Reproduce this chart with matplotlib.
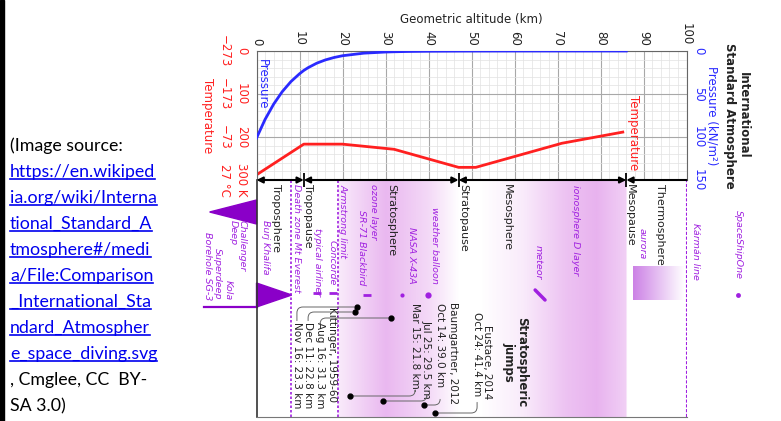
import numpy as np
import matplotlib
matplotlib.use("Agg")
import matplotlib.pyplot as plt
from matplotlib.patches import Polygon, Rectangle
from matplotlib.lines import Line2D
from matplotlib.ticker import MultipleLocator
from matplotlib.transforms import IdentityTransform

# ISA profile
alt_pressure_km = [0, 2, 4, 6, 8, 10, 11, 12, 14, 16, 18, 20, 25, 30, 32, 35, 40, 47, 50, 60, 70, 80, 86]
pressure_kpa = [101.3, 79.5, 61.7, 47.2, 35.6, 26.5, 22.6, 19.4, 14.2, 10.4, 7.6, 5.5,
                2.5, 1.2, 0.89, 0.57, 0.29, 0.11, 0.08, 0.02, 0.005, 0.001, 0.0004]
alt_temp_km = [0, 11, 20, 32, 47, 51, 71, 85.5]
temp_k = [288, 216.6, 216.6, 228.6, 270.6, 270.6, 214.6, 188]

altitude_ticks = [0, 10, 20, 30, 40, 50, 60, 70, 80, 90, 100]
temp_ticks = [0, 100, 200, 300]
temp_tick_labels = ['0\n\u2212273', '100\n\u2212173', '200\n\u221273', '300 K\n27 \u00b0C']
pressure_ticks = [0, 50, 100, 150]

# atmospheric layers
layer_bounds_km = [0, 11, 47, 86, 100]
layer_names = ['Troposphere', 'Tropopause', 'Stratosphere', 'Stratopause',
               'Mesosphere', 'Mesopause', 'Thermosphere']
layer_label_km = [4.5, 11.9, 31.4, 48.1, 58.3, 86.9, 93.8]

# purple reference labels (name, x in km, top offset)
ref_names = ['Death zone Mt Everest', 'Burj Khalifa', 'typical airliner', 'Concorde',
             'Armstrong limit', 'SR-71 Blackbird', 'ozone layer', 'NASA X-43A',
             'weather balloon', 'meteor', 'ionosphere D layer', 'aurora',
             'K\u00e1rm\u00e1n line', 'SpaceShipOne']
ref_label_km = [9.2, 2.0, 14.2, 17.5, 20.1, 24.5, 27.3, 36.1, 41.5, 65.6, 74.1, 89.6, 102.0, 112.0]
ref_label_top = [4, 40, 48, 60, 4, 30, 4, 47, 27, 65, 5, 48, 43, 30]

# small reference markers
dash_km = [14.0, 17.8, 25.7]          # airliner, Concorde, SR-71
dot_km = [33.8, 39.9, 112.0]          # X-43A, balloon, SpaceShipOne
dot_size = [3, 4.5, 3.5]
death_zone_km = 8.0
armstrong_km = 18.9
karman_km = 100
challenger_km = -10.9
kola_km = -12.2
everest_km = 8.2

# stratospheric jumps
jump_labels = ['Oct 24: 41.4 km', 'Oct 14: 39.0 km', 'Jul 25: 29.5 km', 'Mar 15: 21.8 km',
               'Aug 16: 31.3 km', 'Dec 11: 22.8 km', 'Nov 16: 23.3 km']
jump_km = [41.4, 39.0, 29.5, 21.8, 31.3, 22.8, 23.3]

# shading stops (ozone layer / ionosphere D layer)
shade_km = [0, 18.8, 18.9, 30, 40, 47, 52, 62, 72, 79, 85.9, 86.1, 100]
shade_alpha = [0, 0, 0.12, 0.42, 0.22, 0.0, 0.0, 0.12, 0.36, 0.45, 0.28, 0.0, 0.0]

W, H = 781, 421
fig = plt.figure(figsize=(W / 100, H / 100), dpi=100)

PURPLE = '#a020e0'
BLUE = '#2a2aff'
RED = '#ff2020'

# ---------------- main graph ----------------
ax = fig.add_axes([256.5 / W, (H - 180) / H, 430 / W, 129 / H])
ax.set_xlim(0, 100)
ax.set_ylim(300, 0)
ax.xaxis.set_minor_locator(MultipleLocator(2))
ax.yaxis.set_minor_locator(MultipleLocator(20))
ax.grid(which='major', color='#a8a8a8', lw=0.8)
ax.grid(which='minor', color='#e2e2e2', lw=0.5)
ax.set_axisbelow(True)
ax.tick_params(which='both', length=0)
ax.xaxis.tick_top()
ax.xaxis.set_label_position('top')
ax.set_xticks(altitude_ticks)
ax.set_xticklabels([str(t) for t in altitude_ticks], rotation=-90, fontsize=8.5, color='#222222')
ax.tick_params(axis='x', pad=4)
ax.set_xlabel('Geometric altitude (km)', fontsize=8.5, labelpad=0.5, color='#222222')
ax.set_yticks(temp_ticks)
ax.set_yticklabels(temp_tick_labels, rotation=-90, va='center', ha='right',
                   multialignment='center', color=RED, fontsize=8.5, linespacing=1.45)
ax.tick_params(axis='y', pad=6)
for s in ax.spines.values():
    s.set_color('#666666')

ax.plot(alt_temp_km, temp_k, color=RED, lw=2, solid_capstyle='butt')
ax.text(87.6, 102, 'Temperature', rotation=-90, color=RED, ha='center', va='top', fontsize=8.5)

axp = ax.twinx()
axp.set_ylim(150, 0)
axp.plot(alt_pressure_km, pressure_kpa, color=BLUE, lw=2)
axp.set_yticks(pressure_ticks)
axp.set_yticklabels([str(t) for t in pressure_ticks], rotation=-90, va='center', ha='left',
                    color=BLUE, fontsize=8.5)
axp.tick_params(length=0, pad=4)
for s in axp.spines.values():
    s.set_visible(False)
axp.text(1.3, 9, 'Pressure', rotation=-90, color=BLUE, ha='center', va='top', fontsize=8.5)

ax.text(-0.115, 0.5, 'Temperature', transform=ax.transAxes, rotation=-90, color=RED,
        ha='center', va='center', fontsize=8.5)
ax.text(1.06, 0.5, 'Pressure (kN/m\u00b2)', transform=ax.transAxes, rotation=-90, color=BLUE,
        ha='center', va='center', fontsize=8.5)
ax.text(1.117, 0.5, 'International\nStandard Atmosphere', transform=ax.transAxes,
        rotation=-90, color='#222222', ha='center', va='center', fontsize=8.5,
        fontweight='bold', multialignment='center', linespacing=1.1)

# ---------------- lower panel ----------------
ax2 = fig.add_axes([256.5 / W, (H - 417) / H, 430 / W, 237 / H])
ax2.set_xlim(0, 100)
ax2.set_ylim(237, 0)
ax2.set_xticks([])
ax2.set_yticks([])
ax2.spines['top'].set_visible(False)
ax2.spines['right'].set_visible(False)
ax2.spines['left'].set_color('#333333')
ax2.spines['bottom'].set_color('#777777')
ax2.spines['left'].set_linewidth(1.2)

grid_km = np.linspace(0, 100, 801)
shade = np.zeros((1, grid_km.size, 4))
shade[..., 0], shade[..., 1], shade[..., 2] = 0.80, 0.33, 0.86
shade[..., 3] = np.interp(grid_km, shade_km, shade_alpha)
ax2.imshow(shade, extent=[0, 100, 237, 0], aspect='auto', interpolation='bilinear', zorder=0)

aur = np.zeros((1, 50, 4))
aur[..., 0], aur[..., 1], aur[..., 2] = 0.72, 0.30, 0.86
aur[..., 3] = np.linspace(0.7, 0.0, 50)
ax2.imshow(aur, extent=[87.5, 99.5, 120, 87], aspect='auto', interpolation='bilinear', zorder=1)
ax2.set_xlim(0, 100)
ax2.set_ylim(237, 0)

# layer boundary arrows
for i, (a, b) in enumerate(zip(layer_bounds_km[:-1], layer_bounds_km[1:])):
    style = '<|-|>' if i < len(layer_bounds_km) - 2 else '<|-'
    ax2.annotate('', xy=(b, 0), xytext=(a, 0),
                 arrowprops=dict(arrowstyle=style, color='black', lw=1.5,
                                 shrinkA=0, shrinkB=0, mutation_scale=9),
                 annotation_clip=False, zorder=5)
ax2.vlines(layer_bounds_km[1:-1], -7, 7, color='black', lw=1.3, clip_on=False, zorder=5)

for name, km in zip(layer_names, layer_label_km):
    ax2.text(km, 4, name, rotation=-90, ha='center', va='top', fontsize=8, color='#222222')

# vertical reference lines
for km in [death_zone_km, armstrong_km]:
    ax2.axvline(km, color=PURPLE, lw=1.2, ls=(0, (1.5, 1.2)), zorder=2)
ax2.axvline(karman_km, color=PURPLE, lw=1.5, ls=(0, (1.5, 0.8)), zorder=2)

for name, km, top in zip(ref_names, ref_label_km, ref_label_top):
    ax2.text(km, top, name, rotation=-90, ha='center', va='top', fontsize=6.8,
             color=PURPLE, style='italic')

ax2.plot(dash_km, [113, 113, 115], ls='none', marker='_', ms=6, mew=2, color=PURPLE, clip_on=False)
for km, ms in zip(dot_km, dot_size):
    ax2.plot(km, 115, 'o', ms=ms, color=PURPLE, mec='none', clip_on=False)
ax2.plot([64.8, 67.1], [110, 120], color=PURPLE, lw=2.5, solid_capstyle='round')

# deep places / mountain wedges
ax2.add_patch(Polygon([[challenger_km, 32], [0, 20], [0, 44]], closed=True,
                      color='#8a00c8', clip_on=False))
ax2.add_patch(Polygon([[0, 103], [0, 127], [everest_km, 115]], closed=True,
                      color='#8a00c8', clip_on=False))
ax2.plot([kola_km, 0], [127, 127], color='#8a00c8', lw=1.6, clip_on=False)
for txt, km, y, va in [('Challenger', -3.4, 40, 'top'), ('Deep', -5.5, 40, 'top'),
                       ('Kola', -6.6, 120, 'bottom'), ('Superdeep', -9.1, 120, 'bottom'),
                       ('Borehole SG-3', -11.5, 120, 'bottom')]:
    ax2.text(km, y, txt, rotation=-90, ha='center', va=va, fontsize=6.8,
             color=PURPLE, style='italic')

# stratospheric jumps
ax2.text(60.1, 182, 'Stratospheric\njumps', rotation=-90, ha='center', va='center',
         fontsize=8.5, fontweight='bold', multialignment='center', linespacing=1.0,
         color='#222222')
ax2.text(53.6, 145, 'Eustace, 2014', rotation=-90, ha='center', va='top', fontsize=7.5, color='#222222')
ax2.text(45.7, 122, 'Baumgartner, 2012', rotation=-90, ha='center', va='top', fontsize=7.5, color='#222222')
ax2.text(17.6, 127, 'Kittinger, 1959-60', rotation=-90, ha='center', va='top', fontsize=7.5, color='#222222')

jump_text_km = [51.3, 42.7, 39.6, 36.9, 14.8, 12.0, 9.4]
jump_text_top = [132, 123, 140, 123, 142, 142, 142]
jump_text_end = [221, 218, 219, 213, 142, 142, 142]
jump_dot_y = [233, 225, 221, 216, 138, 132, 127]
for i, (lab, km) in enumerate(zip(jump_labels, jump_km)):
    ax2.text(jump_text_km[i], jump_text_top[i], lab, rotation=-90, ha='center', va='top',
             fontsize=7.5, color='#222222')
    ax2.plot(km, jump_dot_y[i], 'o', ms=3.5, color='black', zorder=6)
    ax2.annotate('', xy=(km, jump_dot_y[i]), xytext=(jump_text_km[i], jump_text_end[i]),
                 arrowprops=dict(arrowstyle='-', color='#666666', lw=0.7, shrinkA=1, shrinkB=2,
                                 connectionstyle='angle,angleA=90,angleB=0,rad=6'))

# ---------------- image credit ----------------
fig.add_artist(Rectangle((0, 0), 4 / W, 1, transform=fig.transFigure, color='black'))
credit_lines = ['(Image source:', 'https://en.wikiped', 'ia.org/wiki/Interna',
                'tional_Standard_A', 'tmosphere#/medi', 'a/File:Comparison',
                '_International_Sta', 'ndard_Atmospher', 'e_space_diving.svg',
                ', Cmglee, CC  BY-', 'SA 3.0)']
link_rows = range(1, 9)
links = []
for i, line in enumerate(credit_lines):
    y = 146 + 26 * i
    is_link = i in link_rows
    t = fig.text(10 / W, 1 - y / H, line, ha='left', va='center', fontsize=12.8,
                 family=['Lato', 'DejaVu Sans'], color='#0000ee' if is_link else 'black')
    if is_link:
        links.append(t)

fig.canvas.draw()
renderer = fig.canvas.get_renderer()
for t in links:
    bb = t.get_window_extent(renderer)
    yy = bb.y0 + 1
    fig.add_artist(Line2D([bb.x0, bb.x1], [yy, yy], transform=IdentityTransform(),
                          color='#0000ee', lw=1.2))

fig.savefig('out.png', dpi=100)
